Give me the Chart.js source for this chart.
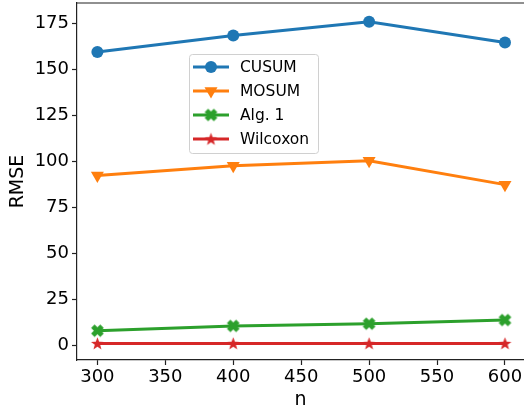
<!DOCTYPE html>
<html>
<head>
<meta charset="utf-8">
<script src="https://cdn.jsdelivr.net/npm/chart.js@4.4.1/dist/chart.umd.min.js"></script>
<style>
  body { margin: 0; background: #fff; }
  #wrap { width: 524px; height: 411px; }
</style>
</head>
<body>
<div id="wrap"><canvas id="rmse" width="524" height="411"></canvas></div>
<script>
// data
const nValues = [300, 400, 500, 600];
const cusum = [159.4, 168.3, 175.8, 164.5];
const mosum = [92.3, 97.6, 100.3, 87.4];
const alg1 = [8.1, 10.7, 11.9, 13.9];
const wilcoxon = [1.2, 1.2, 1.2, 1.2];
const xTicks = [300, 350, 400, 450, 500, 550, 600];
const yTicks = [0, 25, 50, 75, 100, 125, 150, 175];

const FONT = "'DejaVu Sans', sans-serif";

// filled marker shapes like matplotlib's "X" and "*"
function xMarker(color) {
  const c = document.createElement("canvas");
  c.width = 15; c.height = 15;
  const g = c.getContext("2d");
  g.strokeStyle = color;
  g.lineWidth = 5;
  g.lineCap = "butt";
  g.translate(7.5, 7.5);
  const d = 4.6;
  g.beginPath();
  g.moveTo(-d, -d); g.lineTo(d, d);
  g.moveTo(d, -d); g.lineTo(-d, d);
  g.stroke();
  return c;
}

function starMarker(color) {
  const c = document.createElement("canvas");
  c.width = 15; c.height = 15;
  const g = c.getContext("2d");
  g.fillStyle = color;
  g.translate(7.5, 8);
  g.beginPath();
  for (let i = 0; i < 10; i++) {
    const r = i % 2 === 0 ? 6.8 : 2.8;
    const ang = -Math.PI / 2 + i * Math.PI / 5;
    const x = r * Math.cos(ang), y = r * Math.sin(ang);
    if (i === 0) g.moveTo(x, y); else g.lineTo(x, y);
  }
  g.closePath();
  g.fill();
  return c;
}

function pts(ys) {
  return nValues.map(function(x, i) { return { x: x, y: ys[i] }; });
}

const series = [
  { label: "CUSUM", data: cusum, color: "#1f77b4", style: "circle", radius: 6, rotation: 0 },
  { label: "MOSUM", data: mosum, color: "#ff7f0e", style: "triangle", radius: 7.5, rotation: 180 },
  { label: "Alg. 1", data: alg1, color: "#2ca02c", style: xMarker("#2ca02c"), radius: 7, rotation: 0 },
  { label: "Wilcoxon", data: wilcoxon, color: "#d62728", style: starMarker("#d62728"), radius: 7, rotation: 0 }
];

const legendBox = {
  id: "legendBox",
  afterDatasetsDraw(chart) {
    const ctx = chart.ctx;
    const x0 = 189, y0 = 54, w = 129, h = 99;
    ctx.save();
    ctx.beginPath();
    ctx.roundRect(x0 + 0.5, y0 + 0.5, w, h, 3);
    ctx.fillStyle = "rgba(255,255,255,0.8)";
    ctx.fill();
    ctx.strokeStyle = "#d0d0d0";
    ctx.lineWidth = 1;
    ctx.stroke();
    ctx.font = "15.5px " + FONT;
    ctx.textBaseline = "middle";
    series.forEach(function(s, i) {
      const y = 67 + i * 24;
      ctx.strokeStyle = s.color;
      ctx.lineWidth = 3;
      ctx.beginPath();
      ctx.moveTo(193, y);
      ctx.lineTo(229, y);
      ctx.stroke();
      ctx.fillStyle = s.color;
      Chart.helpers.drawPoint(ctx, {
        pointStyle: s.style, radius: s.radius, rotation: s.rotation, borderWidth: 0
      }, 211, y);
      ctx.fillStyle = "#000";
      ctx.fillText(s.label, 240, y + 1);
    });
    ctx.restore();
  }
};

// top spine (right spine falls just outside the canvas)
const frame = {
  id: "frame",
  afterDraw(chart) {
    const a = chart.chartArea, ctx = chart.ctx;
    ctx.save();
    ctx.strokeStyle = "#222";
    ctx.lineWidth = 1.2;
    ctx.beginPath();
    ctx.moveTo(a.left, a.top);
    ctx.lineTo(chart.width, a.top);
    ctx.stroke();
    ctx.restore();
  }
};

new Chart(document.getElementById("rmse"), {
  type: "line",
  data: {
    datasets: series.map(function(s) {
      return {
        label: s.label,
        data: pts(s.data),
        borderColor: s.color,
        backgroundColor: s.color,
        borderWidth: 3,
        pointStyle: s.style,
        pointRadius: s.radius,
        pointHoverRadius: s.radius,
        pointRotation: s.rotation,
        pointBorderWidth: 0,
        tension: 0,
        clip: false
      };
    })
  },
  options: {
    responsive: false,
    devicePixelRatio: 1,
    animation: false,
    layout: { autoPadding: false, padding: { top: 3, right: 0, left: 0, bottom: 0 } },
    plugins: {
      legend: { display: false },
      tooltip: { enabled: false }
    },
    scales: {
      x: {
        type: "linear",
        min: 285,
        max: 614,
        afterBuildTicks: function(scale) {
          scale.ticks = xTicks.map(function(v) { return { value: v }; });
        },
        afterFit: function(scale) {
          scale.height = 51;
          scale.paddingLeft = 0;
          scale.paddingRight = 0;
        },
        grid: { display: true, drawOnChartArea: false, tickLength: 5, color: "#222", tickWidth: 1.2 },
        border: { display: true, color: "#222", width: 1.2 },
        ticks: { color: "#000", font: { family: FONT, size: 18 }, padding: 2, maxRotation: 0, autoSkip: false },
        title: { display: true, text: "n", color: "#000", font: { family: FONT, size: 19 }, padding: { top: -2, bottom: 0 } }
      },
      y: {
        min: -7.8,
        max: 186,
        afterBuildTicks: function(scale) {
          scale.ticks = yTicks.map(function(v) { return { value: v }; });
        },
        afterFit: function(scale) {
          scale.width = 77;
          scale.paddingTop = 0;
          scale.paddingBottom = 0;
        },
        grid: { display: true, drawOnChartArea: false, tickLength: 5, color: "#222", tickWidth: 1.2 },
        border: { display: true, color: "#222", width: 1.2 },
        ticks: { color: "#000", font: { family: FONT, size: 18 }, padding: 3 },
        title: { display: true, text: "RMSE", color: "#000", font: { family: FONT, size: 19 }, padding: { top: 7, bottom: 2 } }
      }
    }
  },
  plugins: [legendBox, frame]
});
</script>
</body>
</html>
